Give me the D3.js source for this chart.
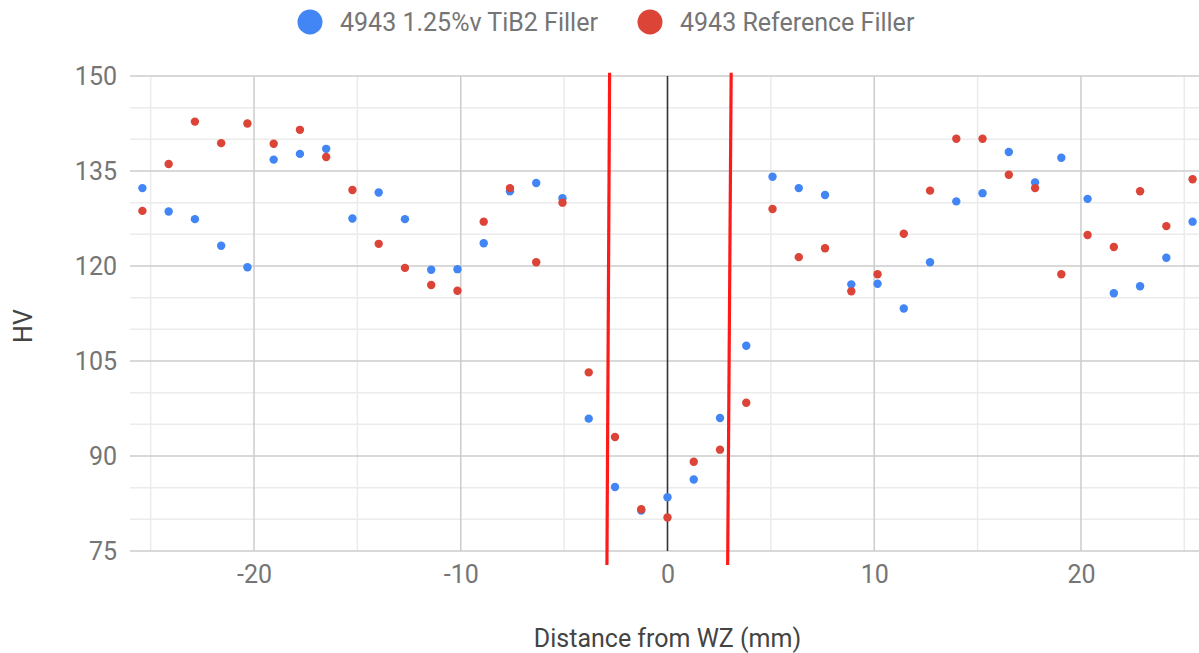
<!DOCTYPE html>
<html>
<head>
<meta charset="utf-8">
<script src="https://cdn.jsdelivr.net/npm/d3@7"></script>
<style>
  body { margin: 0; background: #fff; }
  text { font-family: Roboto, "Noto Sans", sans-serif; }
</style>
</head>
<body>
<div id="wrapper"></div>
<script>
// distance from weld zone (mm)
const distances = [-25.4, -24.13, -22.86, -21.59, -20.32, -19.05, -17.78, -16.51, -15.24, -13.97,
  -12.7, -11.43, -10.16, -8.89, -7.62, -6.35, -5.08, -3.81, -2.54, -1.27, 0,
  1.27, 2.54, 3.81, 5.08, 6.35, 7.62, 8.89, 10.16, 11.43, 12.7,
  13.97, 15.24, 16.51, 17.78, 19.05, 20.32, 21.59, 22.86, 24.13, 25.4]

// hardness, 1.25%v TiB2 filler
const tib2Values = [132.3, 128.6, 127.4, 123.2, 119.8, 136.8, 137.7, 138.5, 127.5, 131.6,
  127.4, 119.4, 119.5, 123.6, 131.8, 133.1, 130.7, 95.9, 85.1, 81.4, 83.5,
  86.3, 96.0, 107.4, 134.1, 132.3, 131.2, 117.1, 117.2, 113.3, 120.6,
  130.2, 131.5, 138.0, 133.2, 137.1, 130.6, 115.7, 116.8, 121.3, 127.0]

// hardness, reference filler
const refValues = [128.7, 136.1, 142.8, 139.4, 142.5, 139.3, 141.5, 137.2, 132.0, 123.5,
  119.7, 117.0, 116.1, 127.0, 132.3, 120.6, 130.0, 103.2, 93.0, 81.6, 80.3,
  89.1, 91.0, 98.4, 129.0, 121.4, 122.8, 116.0, 118.7, 125.1, 131.9,
  140.1, 140.1, 134.4, 132.3, 118.7, 124.9, 123.0, 131.8, 126.3, 133.7]

const seriesNames = ["4943 1.25%v TiB2 Filler", "4943 Reference Filler"]
const seriesColors = ["#4285f4", "#db4437"]

const xTicks = [-20, -10, 0, 10, 20]
const xMinorTicks = [-25, -15, -5, 5, 15, 25]
const yTicks = [75, 90, 105, 120, 135, 150]
const yMinorTicks = [80, 85, 95, 100, 110, 115, 125, 130, 140, 145]

// hand drawn red marks around the weld zone (data coords)
const zoneMarks = [
  { xTop: -2.80, yTop: 150.5, xBottom: -2.93, yBottom: 72.8 },
  { xTop: 3.08, yTop: 150.5, xBottom: 2.91, yBottom: 72.8 },
]

function drawChart() {
  let dimensions = {
    width: 1199,
    height: 653,
    margin: { top: 76, right: -6, bottom: 102, left: 130 },
  }
  dimensions.boundedWidth = dimensions.width - dimensions.margin.left - dimensions.margin.right
  dimensions.boundedHeight = dimensions.height - dimensions.margin.top - dimensions.margin.bottom

  const wrapper = d3.select("#wrapper")
    .append("svg")
      .attr("width", dimensions.width)
      .attr("height", dimensions.height)

  const bounds = wrapper.append("g")
    .attr("transform", `translate(${dimensions.margin.left}, ${dimensions.margin.top})`)

  const xScale = d3.scaleLinear()
    .domain([-26, 26])
    .range([0, dimensions.boundedWidth])

  const yScale = d3.scaleLinear()
    .domain([75, 150])
    .range([dimensions.boundedHeight, 0])

  // gridlines
  const grid = bounds.append("g")
  grid.selectAll(".hminor").data(yMinorTicks).join("line")
    .attr("x1", 0).attr("x2", dimensions.boundedWidth)
    .attr("y1", d => yScale(d)).attr("y2", d => yScale(d))
    .attr("stroke", "#ebebeb").attr("stroke-width", 1.5)
  grid.selectAll(".vminor").data(xMinorTicks).join("line")
    .attr("x1", d => xScale(d)).attr("x2", d => xScale(d))
    .attr("y1", 0).attr("y2", dimensions.boundedHeight)
    .attr("stroke", "#ebebeb").attr("stroke-width", 1.5)
  grid.selectAll(".hmajor").data(yTicks).join("line")
    .attr("x1", 0).attr("x2", dimensions.boundedWidth)
    .attr("y1", d => yScale(d)).attr("y2", d => yScale(d))
    .attr("stroke", "#cccccc").attr("stroke-width", 1.5)
  grid.selectAll(".vmajor").data(xTicks.filter(d => d != 0)).join("line")
    .attr("x1", d => xScale(d)).attr("x2", d => xScale(d))
    .attr("y1", 0).attr("y2", dimensions.boundedHeight)
    .attr("stroke", "#cccccc").attr("stroke-width", 1.5)

  // zero line
  bounds.append("line")
    .attr("x1", xScale(0)).attr("x2", xScale(0))
    .attr("y1", 0).attr("y2", dimensions.boundedHeight)
    .attr("stroke", "#333").attr("stroke-width", 1.6)

  // axes (labels only)
  const yAxis = bounds.append("g")
    .call(d3.axisLeft(yScale).tickValues(yTicks).tickSize(0).tickPadding(13))
  const xAxis = bounds.append("g")
    .attr("transform", `translate(0, ${dimensions.boundedHeight})`)
    .call(d3.axisBottom(xScale).tickValues(xTicks).tickSize(0).tickPadding(14)
      .tickFormat(d => String(d)))
  ;[xAxis, yAxis].forEach(ax => {
    ax.select(".domain").remove()
    ax.selectAll("text")
      .attr("font-size", 25)
      .attr("font-family", "Roboto, sans-serif")
      .attr("fill", "#757575")
  })

  // points
  const series = [tib2Values, refValues]
  series.forEach((values, i) => {
    bounds.append("g").selectAll("circle")
      .data(values)
      .join("circle")
        .attr("cx", (d, j) => xScale(distances[j]))
        .attr("cy", d => yScale(d))
        .attr("r", 4.2)
        .attr("fill", seriesColors[i])
  })

  // red weld zone marks
  bounds.selectAll(".zone").data(zoneMarks).join("line")
    .attr("x1", d => xScale(d.xTop)).attr("y1", d => yScale(d.yTop))
    .attr("x2", d => xScale(d.xBottom)).attr("y2", d => yScale(d.yBottom))
    .attr("stroke", "#ff1a1a").attr("stroke-width", 3.2)

  // legend
  const legendX = [310, 650]
  const legend = wrapper.append("g")
  seriesNames.forEach((name, i) => {
    legend.append("circle")
      .attr("cx", legendX[i]).attr("cy", 22).attr("r", 12.5)
      .attr("fill", seriesColors[i])
    legend.append("text")
      .attr("x", legendX[i] + 30).attr("y", 31)
      .attr("font-size", 25)
      .attr("fill", "#757575")
      .text(name)
  })

  // axis titles
  wrapper.append("text")
    .attr("x", xScale(0) + dimensions.margin.left)
    .attr("y", 647)
    .attr("text-anchor", "middle")
    .attr("font-size", 25)
    .attr("fill", "#444")
    .text("Distance from WZ (mm)")

  wrapper.append("text")
    .attr("transform", "translate(32, 326) rotate(-90)")
    .attr("text-anchor", "middle")
    .attr("font-size", 25)
    .attr("fill", "#444")
    .text("HV")
}

drawChart()
</script>
</body>
</html>
